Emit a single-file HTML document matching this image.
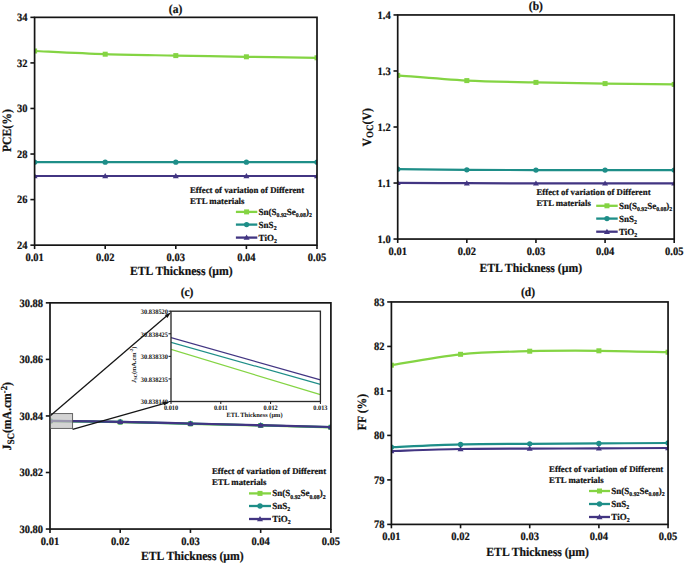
<!DOCTYPE html>
<html><head><meta charset="utf-8"><style>
html,body{margin:0;padding:0;background:#fff;}
svg{display:block;}
text{font-family:"Liberation Serif",serif;fill:#111;text-rendering:geometricPrecision;stroke:#111;stroke-width:0.2px;}
</style></head><body>
<svg width="685" height="564" viewBox="0 0 685 564">
<rect width="685" height="564" fill="#fff"/>
<clipPath id="c1"><rect x="34.6" y="17.35" width="282.4" height="227.8"/></clipPath>
<g clip-path="url(#c1)">
<path d="M34.60,51.00 C46.37,51.53 81.67,53.43 105.20,54.20 C128.73,54.97 152.27,55.17 175.80,55.60 C199.33,56.03 222.87,56.43 246.40,56.80 C269.93,57.17 305.23,57.63 317.00,57.80" fill="none" stroke="#84d443" stroke-width="2.2"/>
<rect x="32.10" y="48.50" width="5" height="5" fill="#84d443"/>
<rect x="102.70" y="51.70" width="5" height="5" fill="#84d443"/>
<rect x="173.30" y="53.10" width="5" height="5" fill="#84d443"/>
<rect x="243.90" y="54.30" width="5" height="5" fill="#84d443"/>
<rect x="314.50" y="55.30" width="5" height="5" fill="#84d443"/>
<path d="M34.60,162.20 C46.37,162.20 81.67,162.20 105.20,162.20 C128.73,162.20 152.27,162.20 175.80,162.20 C199.33,162.20 222.87,162.20 246.40,162.20 C269.93,162.20 305.23,162.20 317.00,162.20" fill="none" stroke="#1e8e88" stroke-width="2.2"/>
<circle cx="34.60" cy="162.20" r="2.65" fill="#1e8e88"/>
<circle cx="105.20" cy="162.20" r="2.65" fill="#1e8e88"/>
<circle cx="175.80" cy="162.20" r="2.65" fill="#1e8e88"/>
<circle cx="246.40" cy="162.20" r="2.65" fill="#1e8e88"/>
<circle cx="317.00" cy="162.20" r="2.65" fill="#1e8e88"/>
<path d="M34.60,176.00 C46.37,176.00 81.67,176.00 105.20,176.00 C128.73,176.00 152.27,176.00 175.80,176.00 C199.33,176.00 222.87,176.00 246.40,176.00 C269.93,176.00 305.23,176.00 317.00,176.00" fill="none" stroke="#423582" stroke-width="2.2"/>
<polygon points="31.60,178.20 37.60,178.20 34.60,173.00" fill="#423582"/>
<polygon points="102.20,178.20 108.20,178.20 105.20,173.00" fill="#423582"/>
<polygon points="172.80,178.20 178.80,178.20 175.80,173.00" fill="#423582"/>
<polygon points="243.40,178.20 249.40,178.20 246.40,173.00" fill="#423582"/>
<polygon points="314.00,178.20 320.00,178.20 317.00,173.00" fill="#423582"/>
</g>
<rect x="34.6" y="17.35" width="282.4" height="227.8" fill="none" stroke="#151515" stroke-width="1.7"/>
<line x1="30.400000000000002" y1="17.35" x2="34.6" y2="17.35" stroke="#151515" stroke-width="1.6"/>
<text transform="translate(27.60,21.10) scale(1,1.08)" text-anchor="end" font-size="10.5" font-weight="bold">34</text>
<line x1="30.400000000000002" y1="62.91" x2="34.6" y2="62.91" stroke="#151515" stroke-width="1.6"/>
<text transform="translate(27.60,66.66) scale(1,1.08)" text-anchor="end" font-size="10.5" font-weight="bold">32</text>
<line x1="30.400000000000002" y1="108.47" x2="34.6" y2="108.47" stroke="#151515" stroke-width="1.6"/>
<text transform="translate(27.60,112.22) scale(1,1.08)" text-anchor="end" font-size="10.5" font-weight="bold">30</text>
<line x1="30.400000000000002" y1="154.03" x2="34.6" y2="154.03" stroke="#151515" stroke-width="1.6"/>
<text transform="translate(27.60,157.78) scale(1,1.08)" text-anchor="end" font-size="10.5" font-weight="bold">28</text>
<line x1="30.400000000000002" y1="199.59" x2="34.6" y2="199.59" stroke="#151515" stroke-width="1.6"/>
<text transform="translate(27.60,203.34) scale(1,1.08)" text-anchor="end" font-size="10.5" font-weight="bold">26</text>
<line x1="30.400000000000002" y1="245.15" x2="34.6" y2="245.15" stroke="#151515" stroke-width="1.6"/>
<text transform="translate(27.60,248.90) scale(1,1.08)" text-anchor="end" font-size="10.5" font-weight="bold">24</text>
<line x1="34.60" y1="245.15" x2="34.60" y2="249.05" stroke="#151515" stroke-width="1.6"/>
<text transform="translate(34.60,260.60) scale(1,1.08)" text-anchor="middle" font-size="10.5" font-weight="bold">0.01</text>
<line x1="105.20" y1="245.15" x2="105.20" y2="249.05" stroke="#151515" stroke-width="1.6"/>
<text transform="translate(105.20,260.60) scale(1,1.08)" text-anchor="middle" font-size="10.5" font-weight="bold">0.02</text>
<line x1="175.80" y1="245.15" x2="175.80" y2="249.05" stroke="#151515" stroke-width="1.6"/>
<text transform="translate(175.80,260.60) scale(1,1.08)" text-anchor="middle" font-size="10.5" font-weight="bold">0.03</text>
<line x1="246.40" y1="245.15" x2="246.40" y2="249.05" stroke="#151515" stroke-width="1.6"/>
<text transform="translate(246.40,260.60) scale(1,1.08)" text-anchor="middle" font-size="10.5" font-weight="bold">0.04</text>
<line x1="317.00" y1="245.15" x2="317.00" y2="249.05" stroke="#151515" stroke-width="1.6"/>
<text transform="translate(317.00,260.60) scale(1,1.08)" text-anchor="middle" font-size="10.5" font-weight="bold">0.05</text>
<text transform="translate(175.50,12.60) scale(1,1.08)" text-anchor="middle" font-size="11.5" font-weight="bold">(a)</text>
<text transform="translate(11.4,130.6) rotate(-90) scale(1,1.08)" text-anchor="middle" font-size="11.7" font-weight="bold">PCE(%)</text>
<text transform="translate(130.00,274.60) scale(1,1.08)" font-size="11.7" font-weight="bold">ETL Thickness (µm)</text>
<text transform="translate(190.00,192.60) scale(1,1.0)" font-size="8.8" font-weight="bold">Effect of variation of Different</text>
<text transform="translate(190.00,203.80) scale(1,1.0)" font-size="8.8" font-weight="bold">ETL materials</text>
<line x1="235.9" y1="211.9" x2="257.3" y2="211.9" stroke="#84d443" stroke-width="2.3"/>
<rect x="244.10" y="209.40" width="5" height="5" fill="#84d443"/>
<text transform="translate(258.60,214.90) scale(1,1.03)" font-size="9.0" font-weight="bold">Sn(S<tspan font-size="5.8" dy="2.2">0.92</tspan><tspan dy="-2.2">Se</tspan><tspan font-size="5.8" dy="2.2">0.08</tspan><tspan dy="-2.2">)</tspan><tspan font-size="5.8" dy="2.2">2</tspan></text>
<line x1="235.9" y1="224.6" x2="257.3" y2="224.6" stroke="#1e8e88" stroke-width="2.3"/>
<circle cx="246.60" cy="224.60" r="2.65" fill="#1e8e88"/>
<text transform="translate(258.60,227.60) scale(1,1.03)" font-size="9.0" font-weight="bold">SnS<tspan font-size="5.8" dy="2.2">2</tspan></text>
<line x1="235.9" y1="237.6" x2="257.3" y2="237.6" stroke="#423582" stroke-width="2.3"/>
<polygon points="243.60,239.80 249.60,239.80 246.60,234.60" fill="#423582"/>
<text transform="translate(258.60,240.60) scale(1,1.03)" font-size="9.0" font-weight="bold">TiO<tspan font-size="5.8" dy="2.2">2</tspan></text>
<clipPath id="c2"><rect x="397.7" y="14.95" width="276.50000000000006" height="224.10000000000002"/></clipPath>
<g clip-path="url(#c2)">
<path d="M397.70,75.40 C409.22,76.27 443.78,79.43 466.82,80.60 C489.87,81.77 512.91,81.90 535.95,82.40 C558.99,82.90 582.03,83.27 605.08,83.60 C628.12,83.93 662.68,84.27 674.20,84.40" fill="none" stroke="#84d443" stroke-width="2.2"/>
<rect x="395.20" y="72.90" width="5" height="5" fill="#84d443"/>
<rect x="464.32" y="78.10" width="5" height="5" fill="#84d443"/>
<rect x="533.45" y="79.90" width="5" height="5" fill="#84d443"/>
<rect x="602.58" y="81.10" width="5" height="5" fill="#84d443"/>
<rect x="671.70" y="81.90" width="5" height="5" fill="#84d443"/>
<path d="M397.70,169.20 C409.22,169.30 443.78,169.65 466.82,169.80 C489.87,169.95 512.91,170.05 535.95,170.10 C558.99,170.15 582.03,170.10 605.08,170.10 C628.12,170.10 662.68,170.10 674.20,170.10" fill="none" stroke="#1e8e88" stroke-width="2.2"/>
<circle cx="397.70" cy="169.20" r="2.65" fill="#1e8e88"/>
<circle cx="466.82" cy="169.80" r="2.65" fill="#1e8e88"/>
<circle cx="535.95" cy="170.10" r="2.65" fill="#1e8e88"/>
<circle cx="605.08" cy="170.10" r="2.65" fill="#1e8e88"/>
<circle cx="674.20" cy="170.10" r="2.65" fill="#1e8e88"/>
<path d="M397.70,182.80 C409.22,182.87 443.78,183.10 466.82,183.20 C489.87,183.30 512.91,183.37 535.95,183.40 C558.99,183.43 582.03,183.40 605.08,183.40 C628.12,183.40 662.68,183.40 674.20,183.40" fill="none" stroke="#423582" stroke-width="2.2"/>
<polygon points="394.70,185.00 400.70,185.00 397.70,179.80" fill="#423582"/>
<polygon points="463.82,185.40 469.82,185.40 466.82,180.20" fill="#423582"/>
<polygon points="532.95,185.60 538.95,185.60 535.95,180.40" fill="#423582"/>
<polygon points="602.08,185.60 608.08,185.60 605.08,180.40" fill="#423582"/>
<polygon points="671.20,185.60 677.20,185.60 674.20,180.40" fill="#423582"/>
</g>
<rect x="397.7" y="14.95" width="276.50000000000006" height="224.10000000000002" fill="none" stroke="#151515" stroke-width="1.7"/>
<line x1="393.5" y1="14.95" x2="397.7" y2="14.95" stroke="#151515" stroke-width="1.6"/>
<text transform="translate(390.70,18.70) scale(1,1.08)" text-anchor="end" font-size="10.5" font-weight="bold">1.4</text>
<line x1="393.5" y1="70.98" x2="397.7" y2="70.98" stroke="#151515" stroke-width="1.6"/>
<text transform="translate(390.70,74.73) scale(1,1.08)" text-anchor="end" font-size="10.5" font-weight="bold">1.3</text>
<line x1="393.5" y1="127.00" x2="397.7" y2="127.00" stroke="#151515" stroke-width="1.6"/>
<text transform="translate(390.70,130.75) scale(1,1.08)" text-anchor="end" font-size="10.5" font-weight="bold">1.2</text>
<line x1="393.5" y1="183.03" x2="397.7" y2="183.03" stroke="#151515" stroke-width="1.6"/>
<text transform="translate(390.70,186.78) scale(1,1.08)" text-anchor="end" font-size="10.5" font-weight="bold">1.1</text>
<line x1="393.5" y1="239.05" x2="397.7" y2="239.05" stroke="#151515" stroke-width="1.6"/>
<text transform="translate(390.70,242.80) scale(1,1.08)" text-anchor="end" font-size="10.5" font-weight="bold">1.0</text>
<line x1="397.70" y1="239.05" x2="397.70" y2="242.95000000000002" stroke="#151515" stroke-width="1.6"/>
<text transform="translate(397.70,255.00) scale(1,1.08)" text-anchor="middle" font-size="10.5" font-weight="bold">0.01</text>
<line x1="466.82" y1="239.05" x2="466.82" y2="242.95000000000002" stroke="#151515" stroke-width="1.6"/>
<text transform="translate(466.82,255.00) scale(1,1.08)" text-anchor="middle" font-size="10.5" font-weight="bold">0.02</text>
<line x1="535.95" y1="239.05" x2="535.95" y2="242.95000000000002" stroke="#151515" stroke-width="1.6"/>
<text transform="translate(535.95,255.00) scale(1,1.08)" text-anchor="middle" font-size="10.5" font-weight="bold">0.03</text>
<line x1="605.08" y1="239.05" x2="605.08" y2="242.95000000000002" stroke="#151515" stroke-width="1.6"/>
<text transform="translate(605.08,255.00) scale(1,1.08)" text-anchor="middle" font-size="10.5" font-weight="bold">0.04</text>
<line x1="674.20" y1="239.05" x2="674.20" y2="242.95000000000002" stroke="#151515" stroke-width="1.6"/>
<text transform="translate(674.20,255.00) scale(1,1.08)" text-anchor="middle" font-size="10.5" font-weight="bold">0.05</text>
<text transform="translate(535.90,9.90) scale(1,1.08)" text-anchor="middle" font-size="11.5" font-weight="bold">(b)</text>
<text transform="translate(370.5,127.3) rotate(-90) scale(1,1.08)" text-anchor="middle" font-size="11.7" font-weight="bold">V<tspan font-size="9" dy="2.2">OC</tspan><tspan dy="-2.2">(V)</tspan></text>
<text transform="translate(479.40,272.00) scale(1,1.08)" font-size="11.7" font-weight="bold">ETL Thickness (µm)</text>
<text transform="translate(536.40,195.40) scale(1,1.0)" font-size="8.8" font-weight="bold">Effect of variation of Different</text>
<text transform="translate(536.40,206.30) scale(1,1.0)" font-size="8.8" font-weight="bold">ETL materials</text>
<line x1="596.2" y1="205.8" x2="617.7" y2="205.8" stroke="#84d443" stroke-width="2.3"/>
<rect x="604.45" y="203.30" width="5" height="5" fill="#84d443"/>
<text transform="translate(619.00,208.80) scale(1,1.03)" font-size="9.0" font-weight="bold">Sn(S<tspan font-size="5.8" dy="2.2">0.92</tspan><tspan dy="-2.2">Se</tspan><tspan font-size="5.8" dy="2.2">0.08</tspan><tspan dy="-2.2">)</tspan><tspan font-size="5.8" dy="2.2">2</tspan></text>
<line x1="596.2" y1="218.6" x2="617.7" y2="218.6" stroke="#1e8e88" stroke-width="2.3"/>
<circle cx="606.95" cy="218.60" r="2.65" fill="#1e8e88"/>
<text transform="translate(619.00,221.60) scale(1,1.03)" font-size="9.0" font-weight="bold">SnS<tspan font-size="5.8" dy="2.2">2</tspan></text>
<line x1="596.2" y1="231.7" x2="617.7" y2="231.7" stroke="#423582" stroke-width="2.3"/>
<polygon points="603.95,233.90 609.95,233.90 606.95,228.70" fill="#423582"/>
<text transform="translate(619.00,234.70) scale(1,1.03)" font-size="9.0" font-weight="bold">TiO<tspan font-size="5.8" dy="2.2">2</tspan></text>
<clipPath id="c3"><rect x="50.0" y="302.85" width="280.9" height="226.19999999999993"/></clipPath>
<g clip-path="url(#c3)">
<path d="M50.00,421.10 C61.70,421.27 96.82,421.65 120.22,422.10 C143.63,422.55 167.04,423.23 190.45,423.80 C213.86,424.37 237.27,424.92 260.67,425.50 C284.08,426.08 319.20,427.00 330.90,427.30" fill="none" stroke="#84d443" stroke-width="2.2"/>
<rect x="47.50" y="418.60" width="5" height="5" fill="#84d443"/>
<rect x="117.72" y="419.60" width="5" height="5" fill="#84d443"/>
<rect x="187.95" y="421.30" width="5" height="5" fill="#84d443"/>
<rect x="258.17" y="423.00" width="5" height="5" fill="#84d443"/>
<rect x="328.40" y="424.80" width="5" height="5" fill="#84d443"/>
<path d="M50.00,420.95 C61.70,421.12 96.82,421.50 120.22,421.95 C143.63,422.40 167.04,423.08 190.45,423.65 C213.86,424.22 237.27,424.77 260.67,425.35 C284.08,425.93 319.20,426.85 330.90,427.15" fill="none" stroke="#1e8e88" stroke-width="2.2"/>
<circle cx="50.00" cy="420.95" r="2.65" fill="#1e8e88"/>
<circle cx="120.22" cy="421.95" r="2.65" fill="#1e8e88"/>
<circle cx="190.45" cy="423.65" r="2.65" fill="#1e8e88"/>
<circle cx="260.67" cy="425.35" r="2.65" fill="#1e8e88"/>
<circle cx="330.90" cy="427.15" r="2.65" fill="#1e8e88"/>
<path d="M50.00,420.80 C61.70,420.97 96.82,421.35 120.22,421.80 C143.63,422.25 167.04,422.93 190.45,423.50 C213.86,424.07 237.27,424.62 260.67,425.20 C284.08,425.78 319.20,426.70 330.90,427.00" fill="none" stroke="#423582" stroke-width="2.2"/>
<polygon points="47.00,423.00 53.00,423.00 50.00,417.80" fill="#423582"/>
<polygon points="117.22,424.00 123.22,424.00 120.22,418.80" fill="#423582"/>
<polygon points="187.45,425.70 193.45,425.70 190.45,420.50" fill="#423582"/>
<polygon points="257.67,427.40 263.67,427.40 260.67,422.20" fill="#423582"/>
<polygon points="327.90,429.20 333.90,429.20 330.90,424.00" fill="#423582"/>
</g>
<rect x="50.0" y="302.85" width="280.9" height="226.19999999999993" fill="none" stroke="#151515" stroke-width="1.7"/>
<line x1="45.8" y1="302.85" x2="50.0" y2="302.85" stroke="#151515" stroke-width="1.6"/>
<text transform="translate(43.00,306.60) scale(1,1.08)" text-anchor="end" font-size="10.5" font-weight="bold">30.88</text>
<line x1="45.8" y1="359.40" x2="50.0" y2="359.40" stroke="#151515" stroke-width="1.6"/>
<text transform="translate(43.00,363.15) scale(1,1.08)" text-anchor="end" font-size="10.5" font-weight="bold">30.86</text>
<line x1="45.8" y1="415.95" x2="50.0" y2="415.95" stroke="#151515" stroke-width="1.6"/>
<text transform="translate(43.00,419.70) scale(1,1.08)" text-anchor="end" font-size="10.5" font-weight="bold">30.84</text>
<line x1="45.8" y1="472.50" x2="50.0" y2="472.50" stroke="#151515" stroke-width="1.6"/>
<text transform="translate(43.00,476.25) scale(1,1.08)" text-anchor="end" font-size="10.5" font-weight="bold">30.82</text>
<line x1="45.8" y1="529.05" x2="50.0" y2="529.05" stroke="#151515" stroke-width="1.6"/>
<text transform="translate(43.00,532.80) scale(1,1.08)" text-anchor="end" font-size="10.5" font-weight="bold">30.80</text>
<line x1="50.00" y1="529.05" x2="50.00" y2="532.9499999999999" stroke="#151515" stroke-width="1.6"/>
<text transform="translate(50.00,545.20) scale(1,1.08)" text-anchor="middle" font-size="10.5" font-weight="bold">0.01</text>
<line x1="120.22" y1="529.05" x2="120.22" y2="532.9499999999999" stroke="#151515" stroke-width="1.6"/>
<text transform="translate(120.22,545.20) scale(1,1.08)" text-anchor="middle" font-size="10.5" font-weight="bold">0.02</text>
<line x1="190.45" y1="529.05" x2="190.45" y2="532.9499999999999" stroke="#151515" stroke-width="1.6"/>
<text transform="translate(190.45,545.20) scale(1,1.08)" text-anchor="middle" font-size="10.5" font-weight="bold">0.03</text>
<line x1="260.67" y1="529.05" x2="260.67" y2="532.9499999999999" stroke="#151515" stroke-width="1.6"/>
<text transform="translate(260.67,545.20) scale(1,1.08)" text-anchor="middle" font-size="10.5" font-weight="bold">0.04</text>
<line x1="330.90" y1="529.05" x2="330.90" y2="532.9499999999999" stroke="#151515" stroke-width="1.6"/>
<text transform="translate(330.90,545.20) scale(1,1.08)" text-anchor="middle" font-size="10.5" font-weight="bold">0.05</text>
<text transform="translate(187.00,295.50) scale(1,1.08)" text-anchor="middle" font-size="11.5" font-weight="bold">(c)</text>
<text transform="translate(11.4,416.3) rotate(-90) scale(1,1.08)" text-anchor="middle" font-size="11.7" font-weight="bold">J<tspan font-size="9" dy="2.2">SC</tspan><tspan dy="-2.2">(mA.cm</tspan><tspan font-size="8.5" dy="-4">-2</tspan><tspan dy="4">)</tspan></text>
<text transform="translate(141.00,560.00) scale(1,1.08)" font-size="11.7" font-weight="bold">ETL Thickness (µm)</text>
<text transform="translate(212.00,474.20) scale(1,1.0)" font-size="8.8" font-weight="bold">Effect of variation of Different</text>
<text transform="translate(212.00,485.40) scale(1,1.0)" font-size="8.8" font-weight="bold">ETL materials</text>
<line x1="249" y1="493.4" x2="271" y2="493.4" stroke="#84d443" stroke-width="2.3"/>
<rect x="257.50" y="490.90" width="5" height="5" fill="#84d443"/>
<text transform="translate(272.30,496.40) scale(1,1.03)" font-size="9.0" font-weight="bold">Sn(S<tspan font-size="5.8" dy="2.2">0.92</tspan><tspan dy="-2.2">Se</tspan><tspan font-size="5.8" dy="2.2">0.08</tspan><tspan dy="-2.2">)</tspan><tspan font-size="5.8" dy="2.2">2</tspan></text>
<line x1="249" y1="506" x2="271" y2="506" stroke="#1e8e88" stroke-width="2.3"/>
<circle cx="260.00" cy="506.00" r="2.65" fill="#1e8e88"/>
<text transform="translate(272.30,509.00) scale(1,1.03)" font-size="9.0" font-weight="bold">SnS<tspan font-size="5.8" dy="2.2">2</tspan></text>
<line x1="249" y1="519" x2="271" y2="519" stroke="#423582" stroke-width="2.3"/>
<polygon points="257.00,521.20 263.00,521.20 260.00,516.00" fill="#423582"/>
<text transform="translate(272.30,522.00) scale(1,1.03)" font-size="9.0" font-weight="bold">TiO<tspan font-size="5.8" dy="2.2">2</tspan></text>
<clipPath id="c4"><rect x="391.4" y="301.95" width="276.65" height="222.45"/></clipPath>
<g clip-path="url(#c4)">
<path d="M391.40,365.20 C402.93,363.38 437.51,356.63 460.56,354.30 C483.62,351.97 506.67,351.78 529.72,351.20 C552.78,350.62 575.83,350.63 598.89,350.80 C621.94,350.97 656.52,351.97 668.05,352.20" fill="none" stroke="#84d443" stroke-width="2.2"/>
<rect x="388.90" y="362.70" width="5" height="5" fill="#84d443"/>
<rect x="458.06" y="351.80" width="5" height="5" fill="#84d443"/>
<rect x="527.22" y="348.70" width="5" height="5" fill="#84d443"/>
<rect x="596.39" y="348.30" width="5" height="5" fill="#84d443"/>
<rect x="665.55" y="349.70" width="5" height="5" fill="#84d443"/>
<path d="M391.40,447.20 C402.93,446.73 437.51,444.97 460.56,444.40 C483.62,443.83 506.67,443.97 529.72,443.80 C552.78,443.63 575.83,443.53 598.89,443.40 C621.94,443.27 656.52,443.07 668.05,443.00" fill="none" stroke="#1e8e88" stroke-width="2.2"/>
<circle cx="391.40" cy="447.20" r="2.65" fill="#1e8e88"/>
<circle cx="460.56" cy="444.40" r="2.65" fill="#1e8e88"/>
<circle cx="529.72" cy="443.80" r="2.65" fill="#1e8e88"/>
<circle cx="598.89" cy="443.40" r="2.65" fill="#1e8e88"/>
<circle cx="668.05" cy="443.00" r="2.65" fill="#1e8e88"/>
<path d="M391.40,451.00 C402.93,450.67 437.51,449.40 460.56,449.00 C483.62,448.60 506.67,448.70 529.72,448.60 C552.78,448.50 575.83,448.50 598.89,448.40 C621.94,448.30 656.52,448.07 668.05,448.00" fill="none" stroke="#423582" stroke-width="2.2"/>
<polygon points="388.40,453.20 394.40,453.20 391.40,448.00" fill="#423582"/>
<polygon points="457.56,451.20 463.56,451.20 460.56,446.00" fill="#423582"/>
<polygon points="526.72,450.80 532.72,450.80 529.72,445.60" fill="#423582"/>
<polygon points="595.89,450.60 601.89,450.60 598.89,445.40" fill="#423582"/>
<polygon points="665.05,450.20 671.05,450.20 668.05,445.00" fill="#423582"/>
</g>
<rect x="391.4" y="301.95" width="276.65" height="222.45" fill="none" stroke="#151515" stroke-width="1.7"/>
<line x1="387.2" y1="301.95" x2="391.4" y2="301.95" stroke="#151515" stroke-width="1.6"/>
<text transform="translate(384.40,305.70) scale(1,1.08)" text-anchor="end" font-size="10.5" font-weight="bold">83</text>
<line x1="387.2" y1="346.44" x2="391.4" y2="346.44" stroke="#151515" stroke-width="1.6"/>
<text transform="translate(384.40,350.19) scale(1,1.08)" text-anchor="end" font-size="10.5" font-weight="bold">82</text>
<line x1="387.2" y1="390.93" x2="391.4" y2="390.93" stroke="#151515" stroke-width="1.6"/>
<text transform="translate(384.40,394.68) scale(1,1.08)" text-anchor="end" font-size="10.5" font-weight="bold">81</text>
<line x1="387.2" y1="435.42" x2="391.4" y2="435.42" stroke="#151515" stroke-width="1.6"/>
<text transform="translate(384.40,439.17) scale(1,1.08)" text-anchor="end" font-size="10.5" font-weight="bold">80</text>
<line x1="387.2" y1="479.91" x2="391.4" y2="479.91" stroke="#151515" stroke-width="1.6"/>
<text transform="translate(384.40,483.66) scale(1,1.08)" text-anchor="end" font-size="10.5" font-weight="bold">79</text>
<line x1="387.2" y1="524.40" x2="391.4" y2="524.40" stroke="#151515" stroke-width="1.6"/>
<text transform="translate(384.40,528.15) scale(1,1.08)" text-anchor="end" font-size="10.5" font-weight="bold">78</text>
<line x1="391.40" y1="524.4" x2="391.40" y2="528.3" stroke="#151515" stroke-width="1.6"/>
<text transform="translate(391.40,540.20) scale(1,1.08)" text-anchor="middle" font-size="10.5" font-weight="bold">0.01</text>
<line x1="460.56" y1="524.4" x2="460.56" y2="528.3" stroke="#151515" stroke-width="1.6"/>
<text transform="translate(460.56,540.20) scale(1,1.08)" text-anchor="middle" font-size="10.5" font-weight="bold">0.02</text>
<line x1="529.72" y1="524.4" x2="529.72" y2="528.3" stroke="#151515" stroke-width="1.6"/>
<text transform="translate(529.72,540.20) scale(1,1.08)" text-anchor="middle" font-size="10.5" font-weight="bold">0.03</text>
<line x1="598.89" y1="524.4" x2="598.89" y2="528.3" stroke="#151515" stroke-width="1.6"/>
<text transform="translate(598.89,540.20) scale(1,1.08)" text-anchor="middle" font-size="10.5" font-weight="bold">0.04</text>
<line x1="668.05" y1="524.4" x2="668.05" y2="528.3" stroke="#151515" stroke-width="1.6"/>
<text transform="translate(668.05,540.20) scale(1,1.08)" text-anchor="middle" font-size="10.5" font-weight="bold">0.05</text>
<text transform="translate(528.00,295.50) scale(1,1.08)" text-anchor="middle" font-size="11.5" font-weight="bold">(d)</text>
<text transform="translate(366,412) rotate(-90) scale(1,1.08)" text-anchor="middle" font-size="11.7" font-weight="bold">FF (%)</text>
<text transform="translate(486.30,556.20) scale(1,1.08)" font-size="11.7" font-weight="bold">ETL Thickness (µm)</text>
<text transform="translate(549.10,471.80) scale(1,1.0)" font-size="8.8" font-weight="bold">Effect of variation of Different</text>
<text transform="translate(549.10,483.00) scale(1,1.0)" font-size="8.8" font-weight="bold">ETL materials</text>
<line x1="589" y1="491" x2="610" y2="491" stroke="#84d443" stroke-width="2.3"/>
<rect x="597.00" y="488.50" width="5" height="5" fill="#84d443"/>
<text transform="translate(611.30,494.00) scale(1,1.03)" font-size="9.0" font-weight="bold">Sn(S<tspan font-size="5.8" dy="2.2">0.92</tspan><tspan dy="-2.2">Se</tspan><tspan font-size="5.8" dy="2.2">0.08</tspan><tspan dy="-2.2">)</tspan><tspan font-size="5.8" dy="2.2">2</tspan></text>
<line x1="589" y1="504" x2="610" y2="504" stroke="#1e8e88" stroke-width="2.3"/>
<circle cx="599.50" cy="504.00" r="2.65" fill="#1e8e88"/>
<text transform="translate(611.30,507.00) scale(1,1.03)" font-size="9.0" font-weight="bold">SnS<tspan font-size="5.8" dy="2.2">2</tspan></text>
<line x1="589" y1="517" x2="610" y2="517" stroke="#423582" stroke-width="2.3"/>
<polygon points="596.50,519.20 602.50,519.20 599.50,514.00" fill="#423582"/>
<text transform="translate(611.30,520.00) scale(1,1.03)" font-size="9.0" font-weight="bold">TiO<tspan font-size="5.8" dy="2.2">2</tspan></text>
<rect x="171" y="311.2" width="149.39999999999998" height="90.30000000000001" fill="#fff"/>
<clipPath id="ci"><rect x="171" y="311.2" width="149.39999999999998" height="90.30000000000001"/></clipPath>
<g clip-path="url(#ci)">
<polyline points="171,349.4 320.4,394.6" fill="none" stroke="#84d443" stroke-width="1.2"/>
<polyline points="171,342.4 320.4,384.4" fill="none" stroke="#1e8e88" stroke-width="1.2"/>
<polyline points="171,337.6 320.4,379.8" fill="none" stroke="#423582" stroke-width="1.2"/>
</g>
<rect x="171" y="311.2" width="149.39999999999998" height="90.30000000000001" fill="none" stroke="#2a2a2a" stroke-width="1.35"/>
<line x1="168.5" y1="311.20" x2="171" y2="311.20" stroke="#151515" stroke-width="1"/>
<text transform="translate(168.00,314.10) scale(1,1.08)" text-anchor="end" font-size="6.4" font-weight="bold" style="stroke:none">30.838520</text>
<line x1="168.5" y1="333.77" x2="171" y2="333.77" stroke="#151515" stroke-width="1"/>
<text transform="translate(168.00,336.67) scale(1,1.08)" text-anchor="end" font-size="6.4" font-weight="bold" style="stroke:none">30.838425</text>
<line x1="168.5" y1="356.35" x2="171" y2="356.35" stroke="#151515" stroke-width="1"/>
<text transform="translate(168.00,359.25) scale(1,1.08)" text-anchor="end" font-size="6.4" font-weight="bold" style="stroke:none">30.838330</text>
<line x1="168.5" y1="378.93" x2="171" y2="378.93" stroke="#151515" stroke-width="1"/>
<text transform="translate(168.00,381.82) scale(1,1.08)" text-anchor="end" font-size="6.4" font-weight="bold" style="stroke:none">30.838235</text>
<line x1="168.5" y1="401.50" x2="171" y2="401.50" stroke="#151515" stroke-width="1"/>
<text transform="translate(168.00,404.40) scale(1,1.08)" text-anchor="end" font-size="6.4" font-weight="bold" style="stroke:none">30.838140</text>
<line x1="171.00" y1="401.5" x2="171.00" y2="404.0" stroke="#151515" stroke-width="1"/>
<text transform="translate(171.00,410.10) scale(1,1.08)" text-anchor="middle" font-size="6.3" font-weight="bold" style="stroke:none">0.010</text>
<line x1="220.80" y1="401.5" x2="220.80" y2="404.0" stroke="#151515" stroke-width="1"/>
<text transform="translate(220.80,410.10) scale(1,1.08)" text-anchor="middle" font-size="6.3" font-weight="bold" style="stroke:none">0.011</text>
<line x1="270.60" y1="401.5" x2="270.60" y2="404.0" stroke="#151515" stroke-width="1"/>
<text transform="translate(270.60,410.10) scale(1,1.08)" text-anchor="middle" font-size="6.3" font-weight="bold" style="stroke:none">0.012</text>
<line x1="320.40" y1="401.5" x2="320.40" y2="404.0" stroke="#151515" stroke-width="1"/>
<text transform="translate(320.40,410.10) scale(1,1.08)" text-anchor="middle" font-size="6.3" font-weight="bold" style="stroke:none">0.013</text>
<text transform="translate(226.40,417.10) scale(1,1.0)" font-size="6.4" font-weight="bold" style="stroke:none">ETL Thickness (µm)</text>
<text transform="translate(135.6,364.8) rotate(-90) scale(1,1.0)" text-anchor="middle" font-size="6.3" font-weight="bold" style="stroke:none"><tspan font-style="italic">J</tspan><tspan font-size="4.5" dy="1.3">SC</tspan><tspan dy="-1.3">(mA.cm</tspan><tspan font-size="4.5" dy="-2.7">-2</tspan><tspan dy="2.7">)</tspan></text>
<rect x="50.4" y="413.6" width="22.2" height="14.8" fill="#c0c0c0" fill-opacity="0.7" stroke="#555" stroke-width="0.9"/>
<line x1="50.60" y1="415.40" x2="166.85" y2="315.84" stroke="#151515" stroke-width="1.3"/>
<polygon points="171.10,312.20 167.36,317.97 164.82,315.01" fill="#151515"/>
<line x1="72.60" y1="429.30" x2="164.51" y2="403.32" stroke="#151515" stroke-width="1.3"/>
<polygon points="169.90,401.80 164.08,405.47 163.02,401.72" fill="#151515"/>
</svg>
</body></html>
